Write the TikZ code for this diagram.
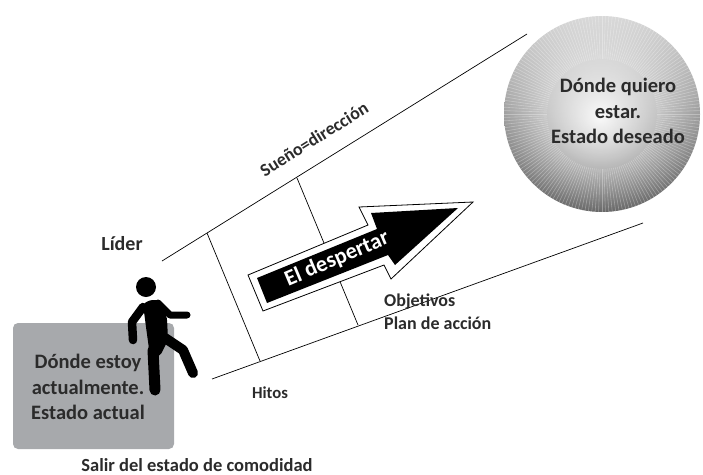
\documentclass[tikz,border=0pt]{standalone}
\usepackage{fontspec}
\setmainfont{Carlito}
\usetikzlibrary{fadings}
\definecolor{boxgray}{HTML}{A7A9AC}
\definecolor{inkgray}{HTML}{2B2B2B}
\tikzfading[name=glowfade, inner color=transparent!0, outer color=transparent!100]
\tikzset{
    guide/.style = {black, line width=0.7pt},
    limb/.style = {black, line cap=round, line join=round},
    label/.style = {text=inkgray, font=\bfseries\fontsize{18}{21}\selectfont, inner sep=0pt},
    statetext/.style = {text=inkgray, font=\bfseries\fontsize{20.5}{25.5}\selectfont, align=center, inner sep=0pt}
}
\begin{document}
\begin{tikzpicture}[x=1pt, y=-1pt]
    \useasboundingbox (0,0) rectangle (703,474);
    % current state
    \fill[boxgray, rounded corners=5pt] (13,323) rectangle (174,449);
    % desired state
    \shade[top color=black!15, middle color=black!30, bottom color=black!62] (602,114) circle (98);
    \begin{scope}
        \clip (602,114) circle (98);
        \fill[white, path fading=glowfade, fill opacity=0.95] (600,116) circle (100);
    \end{scope}
    \foreach \a in {0,2,...,358}
        \draw[white, line width=0.6pt, opacity=0.3] (602,114) ++(\a:55) -- ++(\a:43);
    % guide lines
    \draw[guide] (162,261) -- (527,34);
    \draw[guide] (212,379) -- (643,223);
    \draw[guide] (207,233) -- (260,361);
    \draw[guide] (297,178) -- (358,325);
    % arrow
    \filldraw[fill=white, draw=black, line width=0.8pt, line join=miter]
        (248,275) -- (368,225) -- (359,207) -- (473,202) -- (391,279) -- (384,265) -- (263,311) -- cycle;
    \fill[black] (257,278) -- (377,229) -- (371,213) -- (458,208) -- (395,265) -- (388,255) -- (267,303) -- cycle;
    % person
    \fill[black] (146,287) circle (10);
    \fill[black, rounded corners=3pt] (143,304) -- (150,300) -- (160,300) -- (167,318) -- (168,340) -- (160,356) -- (150,356) -- (146,327) -- cycle;
    \draw[limb, line width=7pt] (158,303) -- (170,315) -- (187,315);
    \draw[limb, line width=8.5pt] (143,307) -- (132,322) -- (133,340);
    \draw[limb, line width=10pt] (165,338) -- (183,350) -- (193,373);
    \draw[limb, line width=11pt] (153,350) -- (155,390);
    % labels
    \node[label, font=\bfseries\fontsize{20}{24}\selectfont] (lider) at (122,244) {Líder};
    \node[statetext] (actual) at (88,387) {Dónde estoy\\actualmente.\\Estado actual};
    \node[statetext] (deseado) at (618,111) {Dónde quiero\\estar.\\Estado deseado};
    \node[label, rotate=32] (sueno) at (314,139) {Sueño=dirección};
    \node[text=white, font=\bfseries\fontsize{22.3}{26}\selectfont, rotate=23, inner sep=0pt] (despertar) at (337,259) {El despertar};
    \node[label, anchor=west] (objetivos) at (384,302) {Objetivos};
    \node[label, anchor=west] (plan) at (384,323) {Plan de acción};
    \node[label, font=\bfseries\fontsize{16.7}{20}\selectfont] (hitos) at (270,393) {Hitos};
    \node[label, font=\bfseries\fontsize{18.5}{22}\selectfont] (salir) at (197,465) {Salir del estado de comodidad};
\end{tikzpicture}
\end{document}
